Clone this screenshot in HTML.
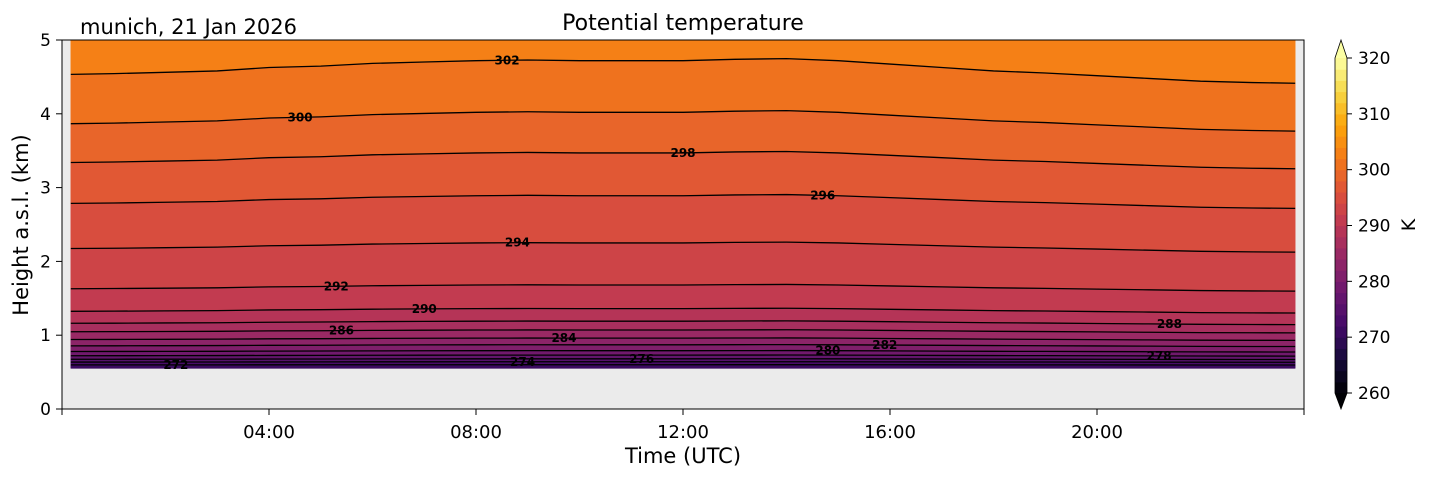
<!DOCTYPE html>
<html><head><meta charset="utf-8"><style>
body{margin:0;background:#fff;font-family:"Liberation Sans","DejaVu Sans",sans-serif}
</style></head><body>
<svg width="1429" height="478" xmlns="http://www.w3.org/2000/svg" style="font-family:'DejaVu Sans','Liberation Sans',sans-serif">
<defs><clipPath id="pc"><rect x="62" y="40" width="1242" height="369"/></clipPath></defs>
<rect x="62" y="40" width="1242" height="369" fill="#ebebeb"/>
<g id="fills" clip-path="url(#pc)"></g>
<g id="lines" clip-path="url(#pc)"></g>
<g id="clabels"></g>
<rect x="62" y="40" width="1242" height="369" fill="none" stroke="#000" stroke-width="1"/>
<g id="axes"></g>
<text x="683" y="30" font-size="22" text-anchor="middle">Potential temperature</text>
<text x="80" y="34" font-size="21">munich, 21 Jan 2026</text>
<text x="683" y="463" font-size="21" text-anchor="middle">Time (UTC)</text>
<text transform="translate(28,225) rotate(-90)" font-size="21" text-anchor="middle">Height a.s.l. (km)</text>
<g id="cbar"></g>
<text transform="translate(1415,225) rotate(-90)" font-size="19" text-anchor="middle">K</text>
</svg>
<script>
const levels=[272,274,276,278,280,282,284,286,288,290,292,294,296,298,300,302];
const baseHeights=[0.6,0.64,0.68,0.73,0.79,0.87,0.96,1.07,1.19,1.36,1.68,2.25,2.89,3.47,4.02,4.72];
const hours=[0.17,1,2,3,4,5,6,7,8,9,10,11,12,13,14,15,16,17,18,19,20,21,22,23,23.83];
const shift=[-0.2,-0.19,-0.17,-0.15,-0.1,-0.08,-0.04,-0.02,0,0.01,0,0,0,0.02,0.03,0,-0.05,-0.1,-0.15,-0.18,-0.22,-0.26,-0.3,-0.32,-0.33];
const xTicks=[4,8,12,16,20];const xTickLabels=["04:00","08:00","12:00","16:00","20:00"];
const yTicks=[0,1,2,3,4,5];
const cbTicks=[260,270,280,290,300,310,320];
const labelSpots=[[272,2.2],[274,8.9],[276,11.2],[278,21.2],[280,14.8],[282,15.9],[284,9.7],[286,5.4],[288,21.4],[290,7.0],[292,5.3],[294,8.8],[296,14.7],[298,12.0],[300,4.6],[302,8.6]];
const X=h=>62+h/24*1242, Y=k=>409-k*73.8;
const inf=["#000004","#160b39","#420a68","#6a176e","#932667","#bc3754","#dd513a","#f37819","#fca50a","#f6d746","#fcffa4"];
function hx(c){return [1,3,5].map(i=>parseInt(c.substr(i,2),16));}
function cmap(t){t=Math.max(0,Math.min(1,t));const p=t*10,i=Math.min(9,Math.floor(p)),f=p-i;const a=hx(inf[i]),b=hx(inf[i+1]);return "rgb("+a.map((v,j)=>Math.round(v+(b[j]-v)*f)).join(",")+")";}
const col=th=>cmap((th-260)/60);
function hAt(i,j){const b=baseHeights[i];return b+shift[j]*Math.max(0,(b-0.55))/4.5;}
const NS="http://www.w3.org/2000/svg";
function mk(t,a,p){const e=document.createElementNS(NS,t);for(const k in a)e.setAttribute(k,a[k]);p.appendChild(e);return e;}
const fills=document.getElementById('fills'),lines=document.getElementById('lines');
const bandBottom=0.55, bandTop=5.0;
for(let i=-1;i<levels.length;i++){
  let lo=i<0?hours.map(()=>bandBottom):hours.map((h,j)=>hAt(i,j));
  let hi=i+1<levels.length?hours.map((h,j)=>hAt(i+1,j)):hours.map(()=>bandTop);
  let th=i<0?271:(i+1<levels.length?levels[i]+1:303);
  let d="M"+hours.map((h,j)=>X(h)+","+Y(lo[j])).join("L");
  for(let j=hours.length-1;j>=0;j--)d+="L"+X(hours[j])+","+Y(hi[j]);
  const e=mk('path',{d:d+"Z",fill:col(th),stroke:col(th),'stroke-width':0.5},fills);
  
  
}
levels.forEach((L,i)=>{
  const d="M"+hours.map((h,j)=>X(h)+","+Y(hAt(i,j))).join("L");
  const e=mk('path',{d,fill:'none',stroke:'#000','stroke-width':1.3},lines);
  
  
});
const cl=document.getElementById('clabels');
labelSpots.forEach(([L,h])=>{
  const i=levels.indexOf(L);let j=0;while(j<hours.length-2&&hours[j+1]<h)j++;
  const f=(h-hours[j])/(hours[j+1]-hours[j]);const k=hAt(i,j)+(hAt(i,j+1)-hAt(i,j))*f;
  const e=mk('text',{x:X(h),y:Y(k)+4,'font-size':12,'font-weight':'bold','text-anchor':'middle'},cl);
  e.textContent=L;
  
  
});
const ax=document.getElementById('axes');
xTicks.forEach((t,i)=>{
  mk('line',{x1:X(t),x2:X(t),y1:409,y2:415,stroke:'#000'},ax);
  const e=mk('text',{x:X(t),y:438,'font-size':18,'text-anchor':'middle'},ax);e.textContent=xTickLabels[i];
  
  
});
[0,24].forEach(t=>mk('line',{x1:X(t),x2:X(t),y1:409,y2:415,stroke:'#000'},ax));
yTicks.forEach(t=>{
  mk('line',{x1:56,x2:62,y1:Y(t),y2:Y(t),stroke:'#000'},ax);
  const e=mk('text',{x:51,y:Y(t)+6,'font-size':17,'text-anchor':'end'},ax);e.textContent=t;
  
  
});
const cb=document.getElementById('cbar');
const CY=v=>393-(v-260)/60*335;
for(let v=260;v<320;v+=2){const e=mk('rect',{x:1335,y:CY(v+2),width:12,height:CY(v)-CY(v+2)+0.6,fill:col(v+1)},cb);
  
  }
mk('path',{d:`M1335,${CY(320)}L1341,40L1347,${CY(320)}Z`,fill:col(321)},cb);
mk('path',{d:`M1335,${CY(260)}L1341,409L1347,${CY(260)}Z`,fill:col(259)},cb);
mk('path',{d:`M1335,${CY(260)}L1335,${CY(320)}L1341,40L1347,${CY(320)}L1347,${CY(260)}L1341,409Z`,fill:'none',stroke:'#000','stroke-width':0.8},cb);
cbTicks.forEach(v=>{mk('line',{x1:1347,x2:1352,y1:CY(v),y2:CY(v),stroke:'#000'},cb);
  const e=mk('text',{x:1358,y:CY(v)+6,'font-size':17},cb);e.textContent=v;
  
  });
</script>
</body></html>
